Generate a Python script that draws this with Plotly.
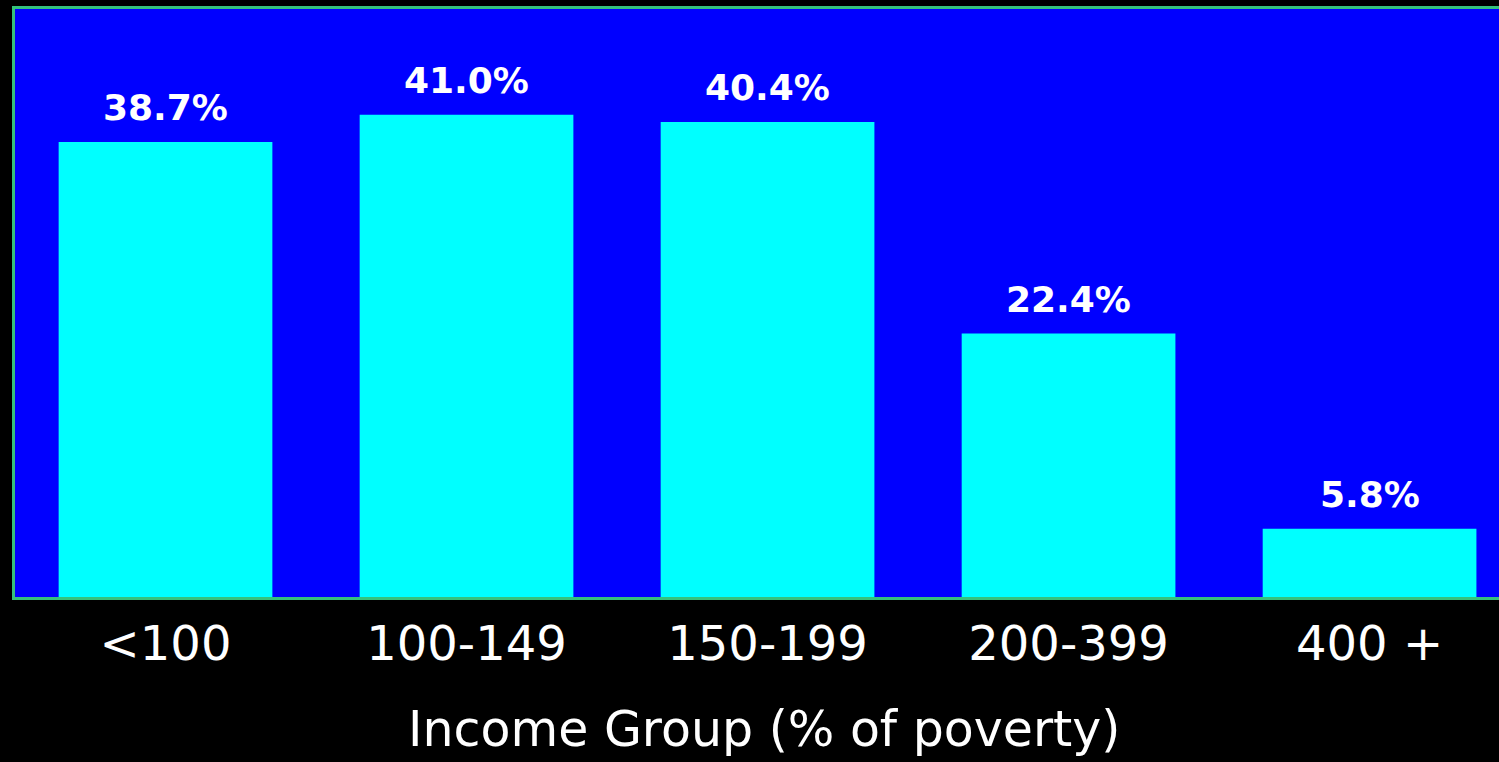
import plotly.graph_objects as go

# Income groups as percent of the poverty line
income_groups = ["<100", "100-149", "150-199", "200-399", "400 +"]
shares = [38.7, 41.0, 40.4, 22.4, 5.8]
share_labels = [f"{v:.1f}%" for v in shares]

BORDER = "#35c27c"
FONT = "DejaVu Sans"

fig = go.Figure()
fig.add_trace(go.Bar(
    x=income_groups,
    y=shares,
    width=0.71,
    marker=dict(color="#00ffff", line=dict(width=0)),
    hoverinfo="skip",
))

# Value labels above each bar
for g, v, t in zip(income_groups, shares, share_labels):
    fig.add_annotation(
        x=g, y=v, text=t, showarrow=False,
        yanchor="bottom", yshift=12,
        font=dict(family=FONT, size=36, color="white", weight="bold"),
    )

# Axis caption, centred slightly right of the plot centre
fig.add_annotation(
    xref="paper", yref="paper", x=0.505, y=0,
    xanchor="center", yanchor="top", yshift=-103,
    text="Income Group (% of poverty)", showarrow=False,
    font=dict(family=FONT, size=49, color="white"),
    borderpad=0,
)

fig.update_layout(
    width=1499, height=762,
    margin=dict(l=15, r=0, t=9, b=165),
    paper_bgcolor="black",
    plot_bgcolor="#0000ff",
    showlegend=False,
    bargap=0.29,
    xaxis=dict(
        type="category",
        range=[-0.5, 4.43],
        showgrid=False,
        showline=True, linecolor=BORDER, linewidth=3, mirror=True,
        ticks="",
        ticklabelstandoff=2,
        tickfont=dict(family=FONT, size=48, color="white"),
    ),
    yaxis=dict(
        range=[0, 50],
        showgrid=False,
        zeroline=False,
        showline=True, linecolor=BORDER, linewidth=3,
        showticklabels=False,
        ticks="",
    ),
)

fig.write_html("out.html")
